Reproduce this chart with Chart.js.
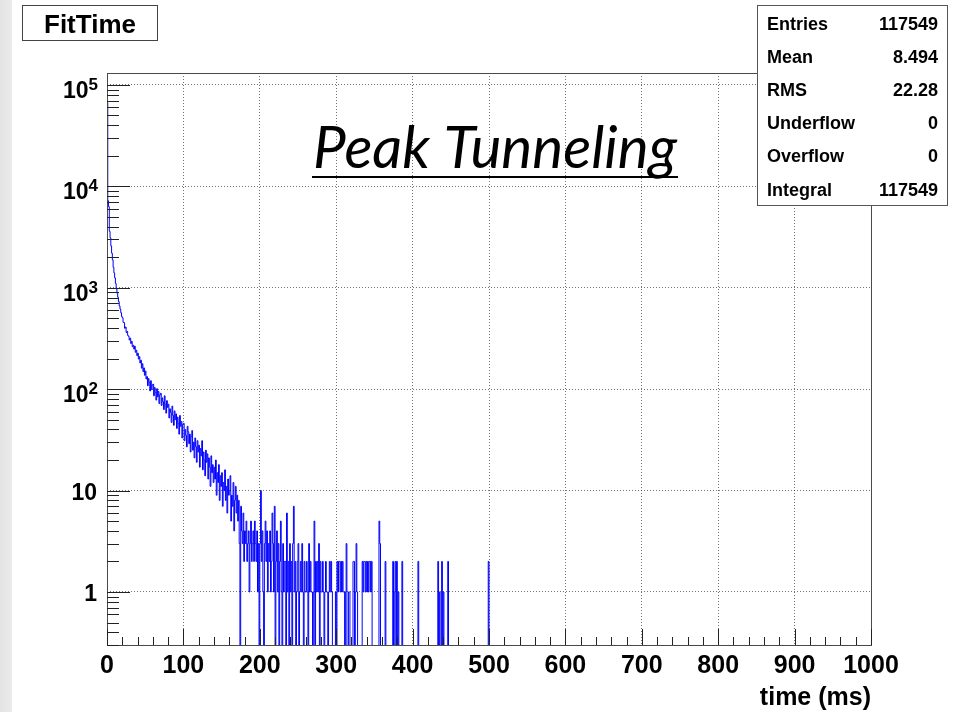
<!DOCTYPE html>
<html>
<head>
<meta charset="utf-8">
<title>FitTime</title>
<script src="https://cdn.jsdelivr.net/npm/chart.js@4.4.1/dist/chart.umd.min.js"></script>
<style>
  html, body { margin: 0; padding: 0; background: #fff; }
  #wrap { position: relative; width: 974px; height: 712px; }
</style>
</head>
<body>
<div id="wrap"><canvas id="fitTime" width="974" height="712"></canvas></div>
<script>
// FitTime histogram: 1000 bins of 1 ms between 0 and 1000 ms
const binCount = 1000;
const xMin = 0;
const xMax = 1000;

// counts per bin, bins 0-349
const counts = [
  67000, 7200, 6300, 3600, 3100, 2580, 2190, 1880, 1590, 1400,
  1250, 1100, 975, 880, 805, 730, 662, 615, 566, 520,
  505, 455, 452, 398, 410, 362, 371, 338, 331, 305,
  318, 282, 296, 262, 271, 248, 265, 231, 242, 214,
  226, 198, 209, 181, 193, 161, 178, 149, 162, 137,
  151, 126, 133, 108, 127, 117, 96, 121, 99, 110,
  112, 86, 104, 93, 78, 101, 84, 95, 72, 88,
  91, 69, 82, 75, 63, 86, 70, 58, 77, 66,
  71, 52, 64, 59, 47, 68, 55, 44, 61, 50,
  57, 41, 53, 46, 36, 55, 43, 48, 33, 45,
  46, 31, 40, 35, 27, 43, 38, 29, 36, 24,
  34, 39, 25, 30, 21, 33, 27, 19, 31, 24,
  28, 17, 26, 22, 31, 16, 24, 20, 14, 25,
  19, 23, 13, 21, 17, 11, 22, 15, 18, 12,
  17, 13, 20, 9, 15, 12, 18, 8, 14, 11,
  15, 7, 12, 10, 16, 8, 11, 6, 13, 9,
  10, 14, 5, 9, 7, 12, 4, 8, 11, 6,
  9, 5, 8, 3, 0, 7, 4, 3, 6, 2,
  4, 3, 5, 2, 3, 4, 1, 3, 5, 2,
  3, 4, 2, 5, 3, 2, 4, 1, 3, 0,
  3, 10, 2, 4, 1, 0, 3, 5, 2, 4,
  1, 3, 2, 4, 1, 2, 6, 3, 1, 7,
  0, 2, 4, 1, 3, 0, 2, 5, 1, 0,
  3, 1, 2, 2, 0, 6, 1, 2, 0, 3,
  1, 2, 0, 3, 7, 1, 2, 0, 1, 2,
  3, 0, 1, 2, 1, 3, 1, 0, 2, 1,
  1, 2, 1, 0, 3, 1, 2, 1, 1, 0,
  1, 5, 0, 2, 1, 2, 1, 3, 0, 2,
  1, 1, 2, 1, 0, 1, 2, 1, 1, 0,
  1, 2, 1, 2, 1, 0, 0, 0, 0, 1,
  0, 2, 1, 2, 2, 1, 2, 1, 2, 1,
  1, 0, 1, 3, 0, 0, 1, 1, 0, 0,
  0, 0, 2, 2, 0, 1, 3, 1, 0, 0,
  0, 0, 0, 0, 2, 1, 2, 2, 1, 2,
  1, 2, 1, 2, 2, 1, 2, 0, 0, 0
];

// isolated non-empty bins in the tail
const tailBins   = [356, 357, 364, 374, 376, 377, 379, 381, 386, 407, 433, 435, 438, 440, 446, 499];
const tailCounts = [5,   3,   2,   2,   1,   2,   2,   1,   2,   2,   2,   1,   2,   1,   2,   2];

// axes
const yMin = 0.3;
const yMax = 131000;
const xMajorTicks = [0, 100, 200, 300, 400, 500, 600, 700, 800, 900, 1000];
const xMinorStep = 20;
const yMajorTicks = [1, 10, 100, 1000, 10000, 100000];
const yTickBase = ['1', '10', '10', '10', '10', '10'];
const yTickExp  = ['', '', '2', '3', '4', '5'];

// stats box
const statNames  = ['Entries', 'Mean', 'RMS', 'Underflow', 'Overflow', 'Integral'];
const statValues = ['117549', '8.494', '22.28', '0', '0', '117549'];

const histTitle = 'FitTime';
const plotLabel = 'Peak Tunneling';
const xAxisTitle = 'time (ms)';

// full bin contents
const binValues = new Array(binCount).fill(0);
counts.forEach((c, i) => { binValues[i] = c; });
tailBins.forEach((b, i) => { binValues[b] = tailCounts[i]; });

// outline points at bin low edges, closed at the upper edge;
// empty bins fall below the log axis floor and get clipped
const yFloor = yMin / 10;
const outline = binValues.map((c, i) => ({
  x: xMin + i * (xMax - xMin) / binCount,
  y: c > 0 ? c : yFloor
}));
outline.push({ x: xMax, y: outline[binCount - 1].y });

const SANS = '"Liberation Sans", Arial, Helvetica, sans-serif';

const rootPad = {
  id: 'rootPad',
  beforeDraw(chart) {
    const ctx = chart.ctx;
    ctx.save();
    ctx.fillStyle = '#ffffff';
    ctx.fillRect(0, 0, chart.width, chart.height);
    const g = ctx.createLinearGradient(0, 0, 12, 0);
    g.addColorStop(0, '#e3e3e3');
    g.addColorStop(1, '#ebebeb');
    ctx.fillStyle = g;
    ctx.fillRect(0, 0, 12, chart.height);
    ctx.restore();
  },
  afterDraw(chart) {
    const ctx = chart.ctx;
    const area = chart.chartArea;
    const xs = chart.scales.x;
    const ys = chart.scales.y;
    ctx.save();

    // frame
    ctx.strokeStyle = '#4a4a4a';
    ctx.lineWidth = 1;
    ctx.strokeRect(Math.round(area.left) + 0.5, Math.round(area.top) + 0.5,
      Math.round(area.right - area.left), Math.round(area.bottom - area.top));

    // x ticks, inside the frame
    ctx.strokeStyle = '#222';
    ctx.beginPath();
    for (let v = xMin; v <= xMax; v += xMinorStep) {
      const px = Math.round(xs.getPixelForValue(v)) + 0.5;
      const len = xMajorTicks.includes(v) ? 16 : 8;
      ctx.moveTo(px, area.bottom);
      ctx.lineTo(px, area.bottom - len);
    }
    // y ticks: decades and 2..9 subdivisions
    for (let d = 0.1; d <= yMax; d *= 10) {
      for (let m = 1; m <= 9; m++) {
        const v = m * d;
        if (v < yMin || v > yMax) continue;
        const py = Math.round(ys.getPixelForValue(v)) + 0.5;
        const len = m === 1 ? 23 : 12;
        ctx.moveTo(area.left, py);
        ctx.lineTo(area.left + len, py);
      }
    }
    ctx.stroke();

    // x labels
    ctx.fillStyle = '#000';
    ctx.font = 'bold 25px ' + SANS;
    ctx.textAlign = 'center';
    ctx.textBaseline = 'alphabetic';
    xMajorTicks.forEach(v => {
      ctx.fillText(String(v), xs.getPixelForValue(v), area.bottom + 28);
    });

    // y labels with exponents
    yMajorTicks.forEach((v, i) => {
      const py = ys.getPixelForValue(v);
      const rightEdge = area.left - 9;
      if (yTickExp[i]) {
        ctx.font = 'bold 17px ' + SANS;
        const ew = ctx.measureText(yTickExp[i]).width;
        ctx.textAlign = 'right';
        ctx.fillText(yTickExp[i], rightEdge, py + 5);
        ctx.font = 'bold 23px ' + SANS;
        ctx.fillText(yTickBase[i], rightEdge - ew, py + 13);
      } else {
        ctx.font = 'bold 23px ' + SANS;
        ctx.textAlign = 'right';
        ctx.fillText(yTickBase[i], rightEdge - 1, py + 9);
      }
    });

    // x axis title
    ctx.font = 'bold 25px ' + SANS;
    ctx.textAlign = 'right';
    ctx.fillText(xAxisTitle, area.right, area.bottom + 60);

    // label inside the plot
    let size = 50;
    ctx.font = 'italic ' + size + 'px Lato, "DejaVu Sans", sans-serif';
    size = size * 364 / ctx.measureText(plotLabel).width;
    ctx.font = 'italic ' + size.toFixed(1) + 'px Lato, "DejaVu Sans", sans-serif';
    ctx.textAlign = 'left';
    ctx.fillText(plotLabel, 313, 168);
    ctx.fillRect(312, 176, 366, 2);

    // stats box
    ctx.fillStyle = '#fff';
    ctx.fillRect(757, 5, 191, 201);
    ctx.strokeStyle = '#555';
    ctx.strokeRect(757.5, 5.5, 190, 200);
    ctx.fillStyle = '#000';
    ctx.font = 'bold 18px ' + SANS;
    statNames.forEach((name, i) => {
      const base = 29.5 + i * 33.2;
      ctx.textAlign = 'left';
      ctx.fillText(name, 767, base);
      ctx.textAlign = 'right';
      ctx.fillText(statValues[i], 938, base);
    });

    // histogram title box
    ctx.fillStyle = '#fff';
    ctx.fillRect(22, 5, 136, 36);
    ctx.strokeStyle = '#444';
    ctx.strokeRect(22.5, 5.5, 135, 35);
    ctx.fillStyle = '#000';
    ctx.font = 'bold 26px ' + SANS;
    ctx.textAlign = 'center';
    ctx.fillText(histTitle, 90, 33);

    ctx.restore();
  }
};

const gridDash = { display: false, dash: [1, 2] };

new Chart(document.getElementById('fitTime').getContext('2d'), {
  type: 'line',
  data: {
    datasets: [{
      data: outline,
      stepped: true,
      borderColor: '#0000ff',
      borderWidth: 1,
      pointRadius: 0,
      fill: false,
      tension: 0
    }]
  },
  options: {
    responsive: false,
    animation: false,
    devicePixelRatio: 1,
    layout: { padding: { left: 107, right: 103, top: 73, bottom: 67 } },
    plugins: {
      legend: { display: false },
      tooltip: { enabled: false }
    },
    scales: {
      x: {
        type: 'linear',
        min: xMin,
        max: xMax,
        afterBuildTicks: s => { s.ticks = xMajorTicks.map(v => ({ value: v })); },
        ticks: { display: false },
        grid: { color: 'rgba(0,0,0,0.55)', lineWidth: 1, drawTicks: false },
        border: gridDash
      },
      y: {
        type: 'logarithmic',
        min: yMin,
        max: yMax,
        afterBuildTicks: s => { s.ticks = yMajorTicks.map(v => ({ value: v })); },
        ticks: { display: false },
        grid: { color: 'rgba(0,0,0,0.55)', lineWidth: 1, drawTicks: false },
        border: gridDash
      }
    }
  },
  plugins: [rootPad]
});
</script>
</body>
</html>
